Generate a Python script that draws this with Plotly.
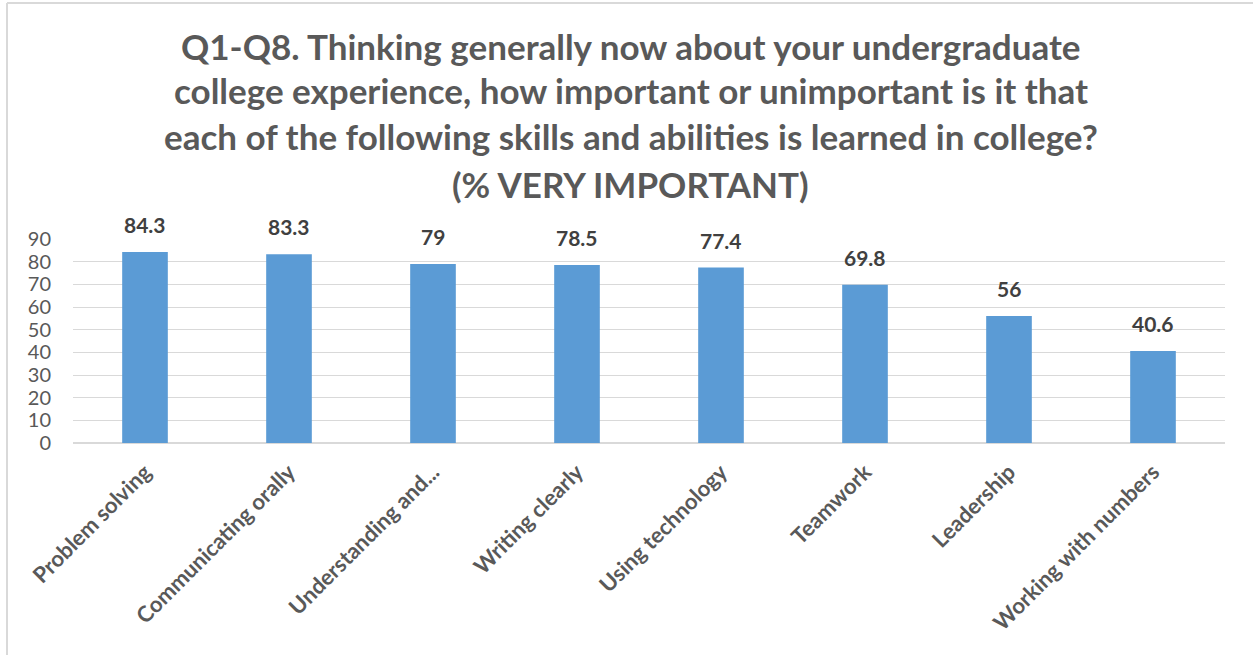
import plotly.graph_objects as go

categories = ["Problem solving", "Communicating orally", "Understanding and...",
              "Writing clearly", "Using technology", "Teamwork", "Leadership",
              "Working with numbers"]
values = [84.3, 83.3, 79, 78.5, 77.4, 69.8, 56, 40.6]
value_labels = ["84.3", "83.3", "79", "78.5", "77.4", "69.8", "56", "40.6"]
y_ticks = [0, 10, 20, 30, 40, 50, 60, 70, 80, 90]
title_lines = [
    "Q1-Q8. Thinking generally now about your undergraduate",
    "college experience, how important or unimportant is it that",
    "each of the following skills and abilities is learned in college?",
    "(% VERY IMPORTANT)",
]

W, H = 1253, 655
ml, mr, mt, mb = 73, 28, 239, 212
FONT = "Lato"

pw = W - ml - mr
ph = H - mt - mb
def px2paperx(p):
    return (p - ml) / pw
def py2papery(p):
    return (H - mb - p) / ph

fig = go.Figure()
fig.add_trace(go.Bar(x=categories, y=values, marker=dict(color="#5B9BD5", line=dict(width=0)),
                     hoverinfo="x+y"))

for c, v, t in zip(categories, values, value_labels):
    fig.add_annotation(x=c, y=v, text="<b>%s</b>" % t, showarrow=False, yanchor="bottom",
                       yshift=13, font=dict(family=FONT, size=21, color="#404040"))

line_centers = [46, 90, 136, 184]
for txt, cy in zip(title_lines, line_centers):
    fig.add_annotation(xref="paper", yref="paper", x=px2paperx(W / 2 + 4), y=py2papery(cy),
                       text="<b>%s</b>" % txt, showarrow=False, xanchor="center", yanchor="middle",
                       font=dict(family=FONT, size=35, color="#595959"))

fig.update_layout(
    width=W, height=H,
    margin=dict(l=ml, r=mr, t=mt, b=mb, pad=0, autoexpand=False),
    paper_bgcolor="white", plot_bgcolor="white",
    showlegend=False,
    bargap=0.683,
    xaxis=dict(tickangle=-45, tickfont=dict(family=FONT, size=22, color="#595959", weight="bold"),
               showgrid=False, showline=False, ticks="", zeroline=False, automargin=False,
               ticklabelstandoff=11),
    yaxis=dict(range=[0, 90], tickvals=y_ticks, tickfont=dict(family=FONT, size=20, color="#595959"),
               showgrid=True, gridcolor="#D9D9D9", gridwidth=1, zeroline=True, zerolinecolor="#D9D9D9",
               showline=False, ticks="", ticklabelstandoff=21, automargin=False),
    shapes=[
        dict(type="line", xref="paper", yref="paper", x0=px2paperx(7), x1=px2paperx(7),
             y0=py2papery(3), y1=py2papery(660), line=dict(color="#D9D9D9", width=2)),
        dict(type="line", xref="paper", yref="paper", x0=px2paperx(7), x1=px2paperx(1260),
             y0=py2papery(3), y1=py2papery(3), line=dict(color="#D9D9D9", width=2)),
    ],
)

fig.write_html("out.html", config={"displayModeBar": False},
               post_script="document.body.style.margin='0';document.body.style.overflow='hidden';")
